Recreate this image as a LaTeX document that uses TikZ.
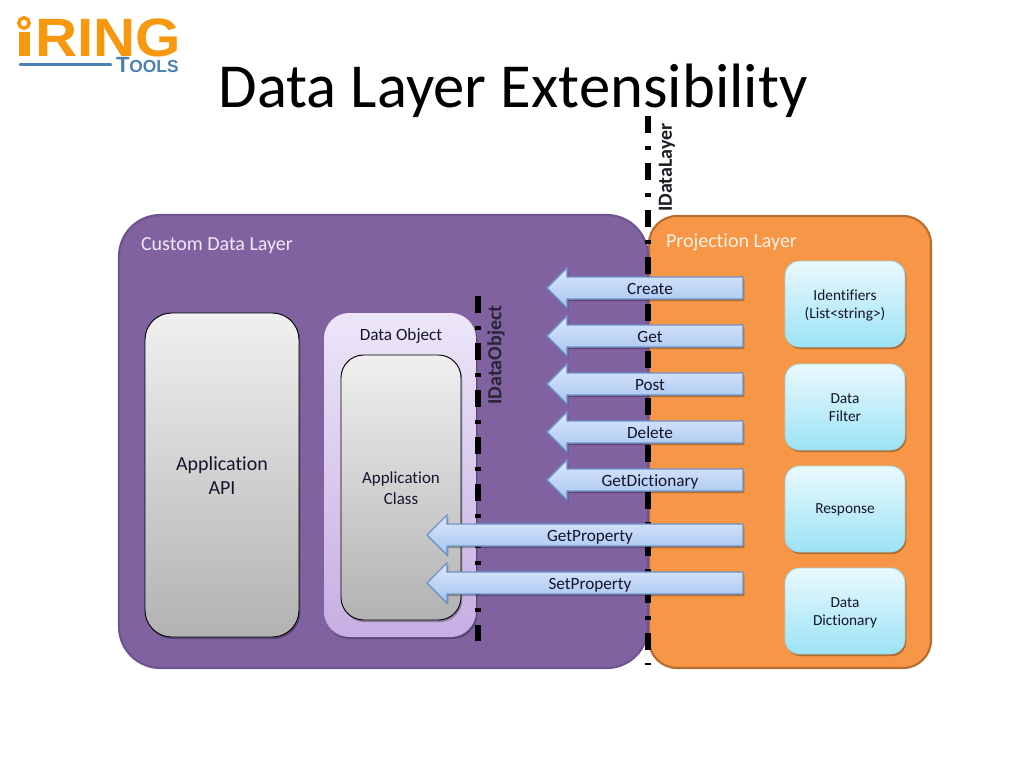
\documentclass[tikz,border=0pt]{standalone}
\usepackage{fontspec}
\setmainfont[RawFeature=-liga]{Carlito}
\newfontfamily\logofont{Liberation Sans}
\usetikzlibrary{shadows}
\definecolor{purpfill}{HTML}{8062A0}
\definecolor{purpline}{HTML}{6F5290}
\definecolor{orfill}{HTML}{F79646}
\definecolor{orline}{HTML}{B66D31}
\definecolor{logoor}{HTML}{F8980F}
\definecolor{logobl}{HTML}{4A80B4}
\definecolor{labelink}{HTML}{14152B}
\definecolor{objtop}{HTML}{EDE6F8}
\definecolor{objbot}{HTML}{C6AEE2}
\definecolor{graytop}{HTML}{F0F0F0}
\definecolor{graybot}{HTML}{B2B2B2}
\definecolor{cyanline}{HTML}{9AD6E4}
\definecolor{cyantop}{HTML}{EAF9FD}
\definecolor{cyanbot}{HTML}{9CE3F6}
\definecolor{arrline}{HTML}{6E93C6}
\definecolor{arrtop}{HTML}{DCE8FB}
\definecolor{arrbot}{HTML}{A6C4F1}
\definecolor{custtext}{HTML}{F0E9F8}
\definecolor{projtext}{HTML}{FFF1E4}
\definecolor{ioink}{HTML}{2A2438}
\definecolor{ilink}{HTML}{1C1C24}
\tikzset{
  x=0.75pt,y=-0.75pt,
  every node/.style={inner sep=0pt,outer sep=0pt,align=center,text=labelink},
  softshadow/.style={general shadow={fill=black,opacity=.28,shadow xshift=1pt,shadow yshift=-1.6pt}},
  panelp/.style={draw=purpline,line width=1.6pt,fill=purpfill,rounded corners=31pt},
  panelo/.style={draw=orline,line width=1.6pt,fill=orfill,rounded corners=21pt},
  objbox/.style={top color=objtop,bottom color=objbot,rounded corners=19pt,softshadow},
  graybox/.style={draw=black,line width=.7pt,top color=graytop,bottom color=graybot,softshadow},
  cyanbox/.style={draw=cyanline,line width=.6pt,top color=cyantop,bottom color=cyanbot,rounded corners=11pt,softshadow},
  barrow/.style={draw=arrline,line width=.9pt,top color=arrtop,bottom color=arrbot,softshadow},
  ifaceline/.style={line width=3.8pt,black,dash pattern=on 12.75pt off 9.75pt on 3pt off 9.75pt},
  lab/.style={font=\fontsize{12.9pt}{16pt}\selectfont},
  lab2/.style={font=\fontsize{11.5pt}{13.4pt}\selectfont},
  panellab/.style={font=\fontsize{15pt}{18pt}\selectfont,anchor=base west},
  ifacelab/.style={rotate=90,font=\fontsize{15pt}{18pt}\bfseries\selectfont},
}
% #1 name, #2 tip x, #3 centre y, #4 label x, #5 text
\newcommand{\blockarrow}[5]{%
  \path[barrow] (#2,#3) -- ({#2+20},{#3-20}) -- ({#2+20},{#3-11}) -- (743,{#3-11})
     -- (743,{#3+11}) -- ({#2+20},{#3+11}) -- ({#2+20},{#3+20}) -- cycle;
  \node[lab,anchor=base] (#1) at (#4,{#3+6.2}) {#5};}
\begin{document}
\begin{tikzpicture}
\useasboundingbox[fill=white] (0,0) rectangle (1024,768);

% logo
\fill[logoor] (19,32) rectangle (30,56);
\draw[logoor,line width=2.6pt] (24,23) circle[radius=5.2];
\node[anchor=base west,font=\logofont\bfseries\fontsize{40.5pt}{40pt}\selectfont,text=logoor,xscale=1.08] (ring) at (35,56) {RING};
\draw[logobl,line width=2.1pt,line cap=round] (20,64.5) -- (111,64.5);
\node[anchor=base west,font=\logofont\bfseries,text=logobl] (tools) at (116,72.5) {{\fontsize{16.5pt}{16pt}\selectfont T}{\fontsize{13pt}{13pt}\selectfont OOLS}};

% title
\node[font=\fontsize{47pt}{50pt}\selectfont,text=black,anchor=base] (title) at (513,107) {Data Layer Extensibility};

% panels
\path[panelo] (649,216) rectangle (931,668);
\path[panelp] (119,215) rectangle (648,668);
\node[panellab,text=custtext] (customlab) at (141,250.5) {Custom Data Layer};
\node[panellab,text=projtext] (projlab) at (666,247) {Projection Layer};

% interface lines
\path[objbox] (324,313) rectangle (476,637);
\draw[ifaceline] (478,296) -- (478,641) coordinate (ioend);
\draw[ifaceline] (648,116) -- (648,665) coordinate (ilend);
\node[ifacelab,text=ioink] (idataobject) at (496,355) {IDataObject};
\node[ifacelab,text=ilink] (idatalayer) at (667,167.5) {IDataLayer};

% gray boxes
\path[graybox,rounded corners=20pt] (145,313) rectangle (299,637);
\node[font=\fontsize{15pt}{18pt}\selectfont] (apiLab) at (222,475.5) {Application\\API};
\node[lab] (dobjLab) at (401,336) {Data Object};
\path[graybox,rounded corners=17pt] (341,355) rectangle (461,620);
\node[font=\fontsize{12.7pt}{15.4pt}\selectfont] (classLab) at (401,488) {Application\\Class};

% cyan boxes
\path[cyanbox] (785,261) rectangle (905,347);
\node[lab2] (ids) at (845,305.5) {Identifiers\\(List<string>)};
\path[cyanbox] (785,364) rectangle (905,450);
\node[lab2] (filter) at (845,407.5) {Data\\Filter};
\path[cyanbox] (785,466) rectangle (905,552);
\node[lab2] (resp) at (845,510) {Response};
\path[cyanbox] (785,568) rectangle (905,654);
\node[lab2] (dict) at (845,612.5) {Data\\Dictionary};

% arrows
\blockarrow{create}{547}{288}{650}{Create}
\blockarrow{get}{547}{336}{650}{Get}
\blockarrow{post}{547}{384}{650}{Post}
\blockarrow{delete}{547}{432}{650}{Delete}
\blockarrow{getdict}{547}{480}{650}{GetDictionary}
\blockarrow{getprop}{427}{535}{590}{GetProperty}
\blockarrow{setprop}{427}{583}{590}{SetProperty}
\end{tikzpicture}
\end{document}
